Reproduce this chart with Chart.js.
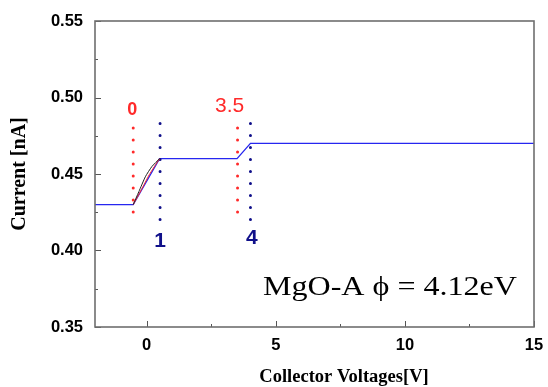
<!DOCTYPE html>
<html>
<head>
<meta charset="utf-8">
<script src="https://cdn.jsdelivr.net/npm/chart.js@4.4.1/dist/chart.umd.min.js"></script>
<style>
  html, body { margin: 0; padding: 0; background: #fff; }
  #wrap { width: 548px; height: 387px; }
</style>
</head>
<body>
<div id="wrap"><canvas id="chart"></canvas></div>
<script>
// =============================
// DATA
// =============================
const voltage = [-2, -0.52, 0.5, 3.5, 4.02, 15];
const current = [0.43, 0.43, 0.46, 0.46, 0.47, 0.47];

// the faint black / red curves under the first step
const blackV = [-0.52, -0.3, -0.05, 0.2, 0.5];
const blackI = [0.43, 0.4385, 0.4482, 0.4548, 0.46];
const redV = [-0.52, -0.2, 0.1, 0.5];
const redI = [0.43, 0.4398, 0.4495, 0.46];

// dotted marker lines
const markerV = [-0.52, 0.52, 3.52, 4.02];
const markerTop = [0.48, 0.483, 0.48, 0.483];
const markerBottom = [0.418, 0.42, 0.42, 0.42];
const markerLabels = ["0", "1", "3.5", "4"];

const xTicks = [0, 2.5, 5, 7.5, 10, 12.5, 15];
const xLabels = [0, 5, 10, 15];
const yTicks = [0.35, 0.375, 0.4, 0.425, 0.45, 0.475, 0.5, 0.525, 0.55];
const yLabels = [0.35, 0.4, 0.45, 0.5, 0.55];

const noteText = "MgO-A \u03D5 = 4.12eV";

// =============================
// STYLES
// =============================
const RED = "#ff2a2a";
const NAVY = "#10108a";
const markerColors = [RED, NAVY, RED, NAVY];
const markerText = [
  { font: "bold 18px 'Liberation Sans'", dx: -1, dy: -18, color: RED },
  { font: "bold 21px 'Liberation Sans'", dx: 0, dy: 21, color: NAVY },
  { font: "21px 'Liberation Sans'", dx: -8, dy: -22, color: RED },
  { font: "bold 21px 'Liberation Sans'", dx: 1.5, dy: 18.5, color: NAVY }
];

const isIn = (list, v) => list.some(t => Math.abs(t - v) < 1e-9);

const datasets = [];
datasets.push({
  data: blackV.map((v, i) => ({ x: v, y: blackI[i] })),
  borderColor: "#222", borderWidth: 1, pointRadius: 0, tension: 0.2
});
datasets.push({
  data: redV.map((v, i) => ({ x: v, y: redI[i] })),
  borderColor: RED, borderWidth: 1, pointRadius: 0, tension: 0.2
});
markerV.forEach((v, i) => {
  datasets.push({
    data: [{ x: v, y: markerTop[i] }, { x: v, y: markerBottom[i] }],
    borderColor: markerColors[i],
    borderWidth: 3,
    borderDash: [0, 12],
    borderCapStyle: "round",
    pointRadius: 0
  });
});
datasets.push({
  data: voltage.map((v, i) => ({ x: v, y: current[i] })),
  borderColor: "#2626f0", borderWidth: 1.3, pointRadius: 0, tension: 0
});

// =============================
// FRAME, TICKS, TEXT
// =============================
const decor = {
  id: "decor",
  afterDatasetsDraw(chart) {
    const { ctx, chartArea: a, scales: { x, y } } = chart;
    ctx.save();

    // inward ticks
    ctx.strokeStyle = "#555";
    ctx.lineWidth = 1;
    ctx.beginPath();
    xTicks.forEach(t => {
      const px = Math.round(x.getPixelForValue(t)) + 0.5;
      const len = isIn(xLabels, t) ? 6 : 3;
      ctx.moveTo(px, a.bottom);
      ctx.lineTo(px, a.bottom - len);
    });
    yTicks.forEach(t => {
      const py = Math.round(y.getPixelForValue(t)) + 0.5;
      const len = isIn(yLabels, t) ? 6 : 3;
      ctx.moveTo(a.left, py);
      ctx.lineTo(a.left + len, py);
    });
    ctx.stroke();

    // frame
    ctx.strokeStyle = "#6e6e6e";
    ctx.lineWidth = 1.6;
    ctx.strokeRect(a.left, a.top, a.right - a.left, a.bottom - a.top);

    // marker labels
    ctx.textAlign = "center";
    ctx.textBaseline = "middle";
    markerV.forEach((v, i) => {
      const s = markerText[i];
      const px = x.getPixelForValue(v) + s.dx;
      const py = y.getPixelForValue(s.dy < 0 ? markerTop[i] : markerBottom[i]) + s.dy;
      ctx.font = s.font;
      ctx.fillStyle = s.color;
      ctx.fillText(markerLabels[i], px, py);
    });

    // note
    ctx.font = "27px 'Liberation Serif'";
    ctx.fillStyle = "#000";
    ctx.textAlign = "left";
    ctx.textBaseline = "alphabetic";
    const w = ctx.measureText(noteText).width;
    const target = 254;
    ctx.save();
    ctx.translate(a.right - 17 - target, 295);
    ctx.scale(target / w, 1);
    ctx.fillText(noteText, 0, 0);
    ctx.restore();

    // axis titles
    ctx.font = "bold 18.5px 'Liberation Serif'";
    ctx.textAlign = "center";
    ctx.fillText("Collector Voltages[V]", 344, 382);

    ctx.save();
    ctx.translate(25, 174);
    ctx.rotate(-Math.PI / 2);
    ctx.font = "bold 20px 'Liberation Serif'";
    ctx.fillText("Current [nA]", 0, 0);
    ctx.restore();

    ctx.restore();
  }
};

// =============================
// CHART
// =============================
new Chart(document.getElementById("chart"), {
  type: "line",
  data: { datasets },
  options: {
    responsive: true,
    maintainAspectRatio: false,
    animation: false,
    layout: { padding: { top: 21, right: 14, left: 0, bottom: 0 } },
    plugins: { legend: { display: false }, tooltip: { enabled: false } },
    scales: {
      x: {
        type: "linear",
        min: -2,
        max: 15,
        afterFit(s) { s.height = 60; s.paddingLeft = 0; s.paddingRight = 0; },
        afterBuildTicks(s) { s.ticks = xTicks.map(v => ({ value: v })); },
        grid: { display: false, drawTicks: false },
        border: { display: false },
        ticks: {
          padding: 9,
          color: "#000",
          font: { family: "'Liberation Sans'", size: 16.5, weight: "bold" },
          maxRotation: 0,
          autoSkip: false,
          callback: v => (isIn(xLabels, v) ? String(v) : "")
        }
      },
      y: {
        min: 0.35,
        max: 0.55,
        afterFit(s) { s.width = 95; s.paddingTop = 0; s.paddingBottom = 0; },
        afterBuildTicks(s) { s.ticks = yTicks.map(v => ({ value: v })); },
        grid: { display: false, drawTicks: false },
        border: { display: false },
        ticks: {
          padding: 12,
          color: "#000",
          font: { family: "'Liberation Sans'", size: 16.5, weight: "bold" },
          autoSkip: false,
          callback: v => (isIn(yLabels, v) ? v.toFixed(2) : "")
        }
      }
    }
  },
  plugins: [decor]
});
</script>
</body>
</html>
